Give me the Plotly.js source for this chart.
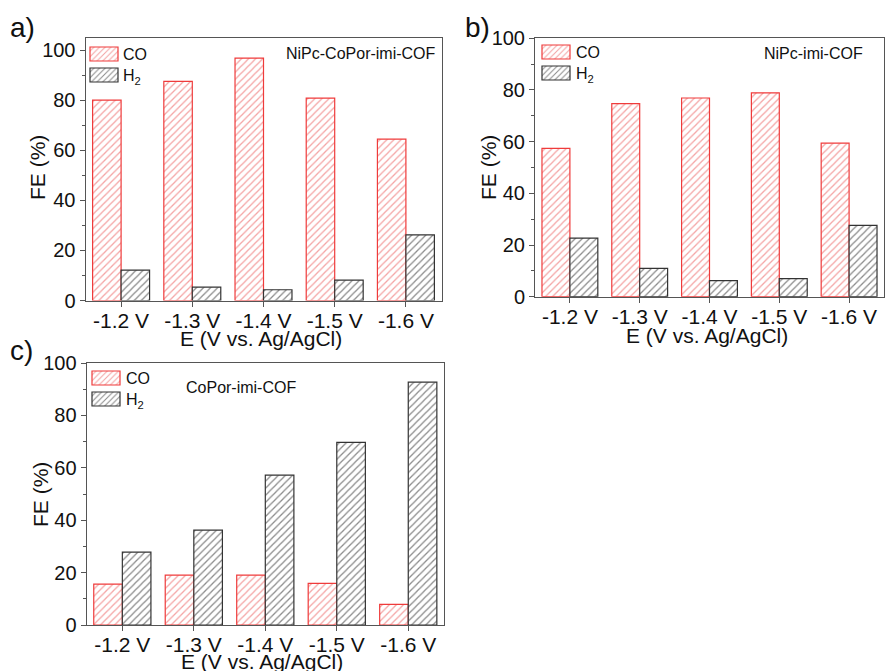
<!DOCTYPE html>
<html>
<head>
<meta charset="utf-8">
<script src="https://cdn.plot.ly/plotly-3.0.1.min.js"></script>
<style>html,body{margin:0;padding:0;background:#fff;}#chart{width:885px;height:671px;}</style>
</head>
<body>
<div id="chart"></div>
<script>
const categories = ['-1.2 V', '-1.3 V', '-1.4 V', '-1.5 V', '-1.6 V'];
const seriesNames = ['CO', 'H<sub>2</sub>'];
const panelA_CO = [80.0, 87.5, 96.8, 80.8, 64.4];
const panelA_H2 = [12.1, 5.3, 4.3, 8.1, 26.2];
const panelB_CO = [57.4, 74.7, 76.9, 78.9, 59.4];
const panelB_H2 = [22.7, 11.0, 6.2, 7.0, 27.6];
const panelC_CO = [15.6, 19.0, 19.0, 15.9, 7.9];
const panelC_H2 = [27.8, 36.2, 57.2, 69.7, 92.7];
const panelLabels = ['a)', 'b)', 'c)'];
const panelNames = ['NiPc-CoPor-imi-COF', 'NiPc-imi-COF', 'CoPor-imi-COF'];
const xTitle = 'E (V vs. Ag/AgCl)';
const yTitle = 'FE (%)';

const FONT = 'Liberation Sans, Arial, Helvetica, sans-serif';
const W = 885, H = 671;
const px = v => v / W;
const py = v => 1 - v / H;

const styleCO = {color: 'white', line: {color: '#ef3b3b', width: 1.2},
  pattern: {shape: '/', fgcolor: '#f4a3a3', bgcolor: 'white', size: 5, solidity: 0.25}};
const styleH2 = {color: 'white', line: {color: '#333333', width: 1.2},
  pattern: {shape: '/', fgcolor: '#8a8a8a', bgcolor: 'white', size: 5, solidity: 0.25}};

function pair(co, h2, ax, leg) {
  return [
    {type: 'bar', name: seriesNames[0], x: categories, y: co, xaxis: 'x' + ax, yaxis: 'y' + ax,
     marker: styleCO, legend: leg, hoverinfo: 'y'},
    {type: 'bar', name: seriesNames[1], x: categories, y: h2, xaxis: 'x' + ax, yaxis: 'y' + ax,
     marker: styleH2, legend: leg, hoverinfo: 'y'}
  ];
}

const data = [].concat(
  pair(panelA_CO, panelA_H2, '', 'legend'),
  pair(panelB_CO, panelB_H2, '2', 'legend2'),
  pair(panelC_CO, panelC_H2, '3', 'legend3')
);

function xaxis(domain, anchor) {
  return {domain: domain, anchor: anchor, type: 'category',
    showline: true, mirror: true, linecolor: '#555', linewidth: 1,
    ticks: 'outside', ticklen: 5, tickcolor: '#555', ticklabelstandoff: -4,
    tickfont: {family: FONT, size: 21, color: '#111'},
    showgrid: false, zeroline: false, fixedrange: true};
}
function yaxis(domain, anchor, range) {
  return {domain: domain, anchor: anchor, range: range,
    showline: true, mirror: true, linecolor: '#555', linewidth: 1,
    ticks: 'outside', ticklen: 5, tickcolor: '#555', dtick: 20,
    minor: {ticks: 'outside', ticklen: 3, dtick: 10, tickcolor: '#555'},
    tickfont: {family: FONT, size: 20, color: '#111'},
    showgrid: false, zeroline: false, fixedrange: true};
}
function legend(x, yTop) {
  return {x: px(x), y: py(yTop), xanchor: 'left', yanchor: 'top',
    bgcolor: 'rgba(0,0,0,0)', borderwidth: 0, tracegroupgap: 0,
    font: {family: FONT, size: 16, color: '#111'}, itemclick: false, itemdoubleclick: false};
}
function note(text, x, y, size, opts) {
  return Object.assign({text: text, xref: 'paper', yref: 'paper', x: px(x), y: py(y),
    xanchor: 'center', yanchor: 'middle', showarrow: false,
    font: {family: FONT, size: size, color: '#111'}}, opts || {});
}

const layout = {
  width: W, height: H,
  margin: {l: 0, r: 0, t: 0, b: 0},
  paper_bgcolor: 'white', plot_bgcolor: 'white',
  barmode: 'group', bargap: 0.2, bargroupgap: 0,
  showlegend: true,
  font: {family: FONT, color: '#111'},
  xaxis: xaxis([px(85.5), px(441.5)], 'y'),
  yaxis: yaxis([py(300.5), py(38)], 'x', [0, 104.8]),
  xaxis2: xaxis([px(535), px(884)], 'y2'),
  yaxis2: yaxis([py(296.7), py(38.3)], 'x2', [0, 100]),
  xaxis3: xaxis([px(86.6), px(444)], 'y3'),
  yaxis3: yaxis([py(625), py(363)], 'x3', [0, 100]),
  legend: legend(84, 43),
  legend2: legend(536, 41),
  legend3: legend(86, 367),
  annotations: [
    note(panelLabels[0], 8, 28, 28, {xanchor: 'left'}),
    note(panelLabels[1], 463, 28, 28, {xanchor: 'left'}),
    note(panelLabels[2], 8, 350, 28, {xanchor: 'left'}),
    note(panelNames[0], 438, 53, 16, {xanchor: 'right'}),
    note(panelNames[1], 865, 53, 16, {xanchor: 'right'}),
    note(panelNames[2], 241, 387, 16),
    note(xTitle, 261, 339, 21),
    note(xTitle, 707, 335, 21),
    note(xTitle, 262, 661, 21),
    note(yTitle, 37, 168, 21, {textangle: -90}),
    note(yTitle, 488, 168, 21, {textangle: -90}),
    note(yTitle, 40, 495, 21, {textangle: -90})
  ]
};

Plotly.newPlot('chart', data, layout, {displayModeBar: false, staticPlot: true}).then(function (gd) {
  // widen legend swatches to rectangles like the original figure, tighten row spacing
  const groups = new Map();
  gd.querySelectorAll('.infolayer g.traces').forEach(function (tr) {
    const parent = tr.parentNode;
    if (!groups.has(parent)) groups.set(parent, []);
    groups.get(parent).push(tr);
  });
  groups.forEach(function (list) {
    list.forEach(function (tr, i) {
      tr.setAttribute('transform', 'translate(0,' + (11 + i * 21) + ')');
      tr.querySelectorAll('.legendpoints path').forEach(function (p) {
        p.setAttribute('d', 'M14,7H-14V-7H14Z');
      });
      tr.querySelectorAll('.legendtext').forEach(function (t) {
        t.setAttribute('x', '39');
      });
    });
  });
});
</script>
</body>
</html>
